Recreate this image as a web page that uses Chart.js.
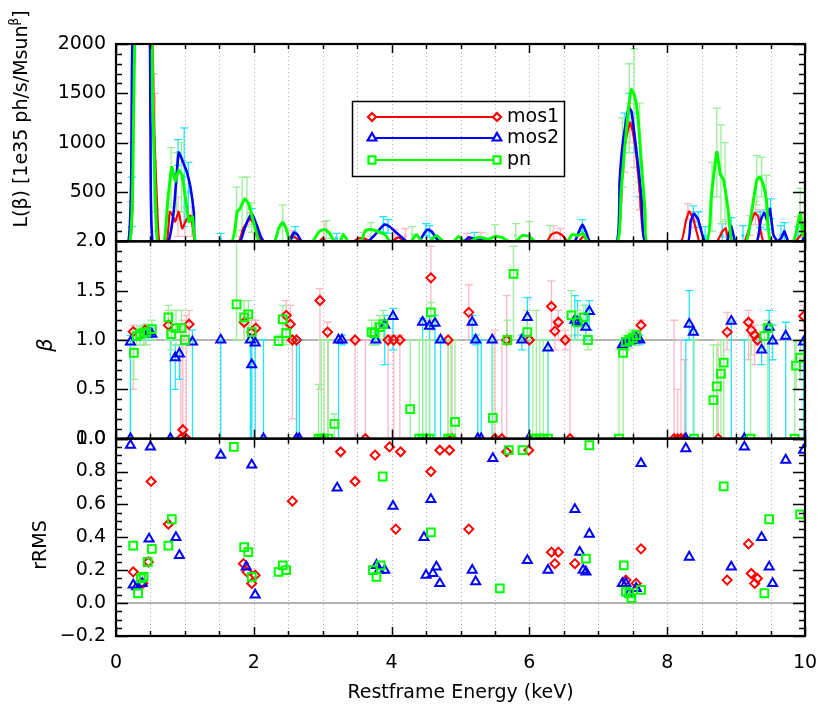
<!DOCTYPE html>
<html><head><meta charset="utf-8">
<script src="https://cdn.jsdelivr.net/npm/chart.js@4.4.0/dist/chart.umd.min.js"></script>
<style>html,body{margin:0;padding:0;background:#fff}#wrap{width:822px;height:710px;position:relative}</style>
</head><body><div id="wrap"><canvas id="c"></canvas></div>
<script>
// ---------- TOP PANEL: L(beta) curves ----------
const mos1LumE = [0,0.2,0.24,0.28,0.5,0.55,0.6,0.63, 0.74,0.78,0.83,0.86,0.91,0.96,1.03,1.08,1.12,1.15, 1.78,1.84,1.94,2.0,2.07,2.12, 2.5,2.55,2.62,2.68, 2.95,3.0,3.05, 3.45,3.52,3.62,3.68, 4.0,4.1,4.2, 5.05,5.12,5.2,5.3,5.38, 6.25,6.32,6.4,6.48,6.55, 6.72,6.78,6.85, 7.28,7.36,7.46,7.5,7.55,7.6,7.68, 8.2,8.27,8.32,8.38,8.43,8.47, 8.72,8.8,8.85,8.9, 9.12,9.2,9.27,9.32,9.4, 9.85,9.95,10];
const mos1Lum  = [0,0,400,2600,2600,1200,300,0, 0,300,250,200,300,130,230,260,120,0, 0,120,230,180,50,0, 0,60,30,0, 0,30,0, 0,30,25,0, 0,40,0, 0,25,15,30,0, 0,70,90,60,0, 0,50,0, 0,887,1203,1110,887,520,0, 0,200,303,220,90,0, 0,100,130,0, 0,160,287,253,0, 0,70,130];
const mos2LumE = [0,0.18,0.22,0.26,0.47,0.5,0.53, 0.76,0.84,0.91,0.98,1.03,1.08,1.13,1.16, 1.8,1.86,1.94,1.98,2.05,2.1,2.15, 2.52,2.58,2.63,2.7, 3.65,3.75,3.85,3.9,3.97,4.05,4.15,4.22, 4.4,4.48,4.53,4.58,4.65,4.7, 5.05,5.12,5.2,5.3,5.4, 6.65,6.72,6.77,6.82,6.88, 7.27,7.31,7.36,7.44,7.48,7.53,7.58,7.63,7.68, 8.3,8.34,8.39,8.45,8.5,8.55, 8.86,8.93,8.99, 9.3,9.36,9.41,9.45,9.49,9.54,9.6,9.66,9.7,9.76, 9.95,10];
const mos2Lum  = [0,0,600,2600,2600,1200,0, 0,320,900,790,700,550,290,0, 0,120,250,270,150,50,0, 0,90,70,0, 0,60,140,170,150,100,40,0, 0,90,120,100,30,0, 0,40,25,30,0, 0,100,170,100,0, 0,620,1020,1353,1320,1053,753,420,0, 0,200,280,220,90,0, 0,150,0, 0,220,290,220,330,70,0,40,100,0, 0,60];
const pnLumE = [0,0.2,0.24,0.3,0.5,0.53,0.56,0.6, 0.7,0.75,0.81,0.86,0.91,0.96,1.01,1.06,1.11,1.16, 1.68,1.76,1.8,1.87,1.93,1.98,2.03,2.08, 2.3,2.36,2.42,2.47,2.53, 2.85,2.95,3.03,3.1,3.17, 3.25,3.3,3.37, 3.55,3.62,3.7,3.8,3.9,3.98, 4.28,4.36,4.44, 4.55,4.65,4.75, 4.9,4.97,5.05, 5.15,5.22,5.3,5.4,5.5,5.6,5.7, 5.8,5.9,6.0,6.08, 6.55,6.62,6.7,6.78,6.85, 7.28,7.33,7.38,7.44,7.48,7.53,7.58,7.63,7.68,7.71, 8.57,8.64,8.72,8.77,8.82,8.89,8.94, 9.15,9.23,9.3,9.34,9.39,9.44,9.5, 9.83,9.93,9.97,10];
const pnLum  = [0,0,500,2600,2600,1500,700,0, 0,400,750,610,720,670,430,200,250,0, 0,300,330,433,370,240,100,0, 0,130,190,130,0, 0,100,120,80,0, 0,70,0, 0,110,120,100,70,0, 0,70,0, 0,60,0, 0,50,0, 0,30,40,20,50,40,0, 0,60,50,0, 0,70,60,80,0, 0,487,920,1353,1537,1470,1220,753,287,0, 0,453,903,683,617,287,0, 0,320,620,653,587,420,0, 0,287,60,180];

// top panel error bars: energy, value, half-error
const mos1ErrE = [0.22,0.57,0.9,1.0,1.1,1.94,2.55,3.02,3.6,4.05,4.2,5.1,5.3,6.35,6.45,7.38,7.46,7.52,7.6,8.3,8.4,8.85,9.2,9.28,9.35,9.9,9.98];
const mos1ErrV = [700,800,250,200,200,230,60,80,30,40,50,20,30,90,70,950,1200,1000,520,303,220,130,160,287,200,100,130];
const mos1ErrD = [300,700,200,150,150,60,50,120,60,80,80,60,60,70,60,250,200,250,200,80,80,90,100,120,120,150,150];
const mos2ErrE = [0.23,0.9,0.99,1.05,1.52,1.97,2.6,3.2,3.88,3.95,4.5,4.55,5.2,6.77,7.38,7.45,7.52,7.6,8.38,8.45,8.55,8.8,8.93,9.1,9.35,9.45,9.5,9.65,9.7,9.9];
const mos2ErrV = [400,900,650,500,20,270,90,30,170,150,120,100,30,160,1100,1350,1100,600,280,220,50,60,150,60,220,220,330,60,100,50];
const mos2ErrD = [250,130,500,300,60,60,60,50,80,70,60,60,60,60,200,150,200,150,80,80,100,120,90,100,80,100,100,100,90,100];
const pnErrE = [0.55,0.8,0.88,0.95,1.75,1.83,1.9,1.97,2.42,3.05,3.7,4.3,5.5,5.8,6.0,6.3,7.35,7.45,7.52,7.6,8.65,8.72,8.78,8.84,9.3,9.37,9.44,9.93];
const pnErrV = [1000,650,600,650,300,380,400,240,190,120,120,70,50,60,50,60,900,1350,1450,1000,450,900,680,600,620,650,420,287];
const pnErrD = [700,300,300,350,250,270,250,150,180,90,70,80,120,120,150,100,350,450,500,400,350,450,500,400,250,200,250,250];

// ---------- MIDDLE PANEL: beta ----------
const mos1BetaE  = [0.25,0.42,0.76,0.94,0.97,1.02,1.06,1.86,1.97,2.03,2.47,2.53,2.56,2.62,2.96,3.07,3.47,3.62,3.95,4.03,4.12,4.57,4.82,4.88,5.12,5.5,5.6,5.67,6.0,6.32,6.37,6.42,6.52,6.59,7.45,7.55,7.62,8.1,8.15,8.2,8.25,8.74,8.87,9.18,9.22,9.27,9.31,9.98];
const mos1Beta   = [1.085,1.1,1.15,0,0.09,0,1.16,1.18,1.08,1.12,1.25,1.16,1.0,1.0,1.4,1.08,1.0,0,1.0,1.0,1.0,1.63,1.0,0,1.28,0,0,1.0,1.0,1.34,1.09,1.18,1.0,0,1.0,1.03,1.15,0,0,0,0,0,1.08,1.18,1.1,1.05,1.0,1.24];
const mos1BetaLo = [0.5,0.95,1.0,0,0,0,1.0,1.0,0,0.98,1.1,1.0,0.2,0,0.5,0,0,0,0,0,0,1.2,0,0,1.0,0,0,0,0,1.1,0.9,1.0,0.9,0,0.95,0.95,1.0,0,0,0,0,0,0.9,0.8,0.85,0.75,0.95,1.1];
const mos1BetaHi = [1.15,1.15,1.3,1.1,1.2,1.25,1.3,1.3,1.2,1.2,1.4,1.35,1.0,1.0,1.52,1.18,1.0,1.0,1.05,1.05,1.05,1.95,1.0,1.0,1.56,1.1,1.0,1.45,1.0,1.6,1.2,1.3,1.1,1.05,1.05,1.1,1.2,1.2,0.5,1.0,0.8,1.0,1.28,1.3,1.2,1.15,1.05,1.35];
const mos2BetaE  = [0.21,0.21,0.47,0.52,0.79,0.86,0.92,1.11,1.52,1.95,1.97,2.02,2.14,2.62,2.66,3.23,3.28,3.77,3.9,4.02,4.45,4.55,4.63,4.71,5.17,5.22,5.25,5.3,5.46,5.89,5.97,5.99,6.27,6.66,6.7,6.82,6.87,7.35,7.4,7.45,7.5,7.55,7.6,8.27,8.32,8.38,8.93,9.12,9.37,9.48,9.53,9.72,9.98];
const mos2Beta   = [0.98,0,1.08,1.06,0,0.82,0.86,0.98,1.0,1.0,0.75,0.97,0,0,0,1.0,1.0,1.0,1.15,1.24,1.18,1.14,1.17,1.0,1.18,1.0,0,0,1.0,1.0,1.23,0,0.92,1.2,1.18,1.13,1.29,0.95,0.97,0.99,1.0,1.02,1.0,0,1.16,1.08,1.19,0,0.9,1.13,0.99,1.04,0.98];
const mos2BetaLo = [0,0,1.0,1.0,0,0.5,0.6,0,0,0,0,0,0,0,0,0,0.95,0.95,0.75,0.9,0,0,0,0,1.0,0.95,0,0,0,0.9,1.0,0,0,1.0,1.05,1.0,1.1,0.9,0.9,0.95,0.95,0.95,0.95,0,1.0,0,0,0,0.75,0,0.8,0,0];
const mos2BetaHi = [1.05,1.0,1.13,1.12,1.0,0.95,0.95,1.1,1.0,1.0,1.0,1.0,1.0,1.0,1.0,1.0,1.05,1.08,1.25,1.32,1.22,1.25,1.25,1.0,1.25,1.05,1.0,1.0,1.0,1.05,1.43,1.0,1.0,1.45,1.4,1.35,1.4,1.0,1.02,1.03,1.05,1.08,1.05,1.0,1.5,1.1,1.19,1.0,1.0,1.3,1.15,1.18,1.0];
const pnBetaE  = [0.26,0.3,0.35,0.4,0.44,0.52,0.76,0.8,0.87,0.95,1.0,1.75,1.86,1.92,1.97,2.36,2.42,2.47,2.94,2.98,3.02,3.08,3.17,3.71,3.75,3.83,3.88,4.27,4.4,4.45,4.5,4.55,4.57,4.82,4.86,4.92,5.47,5.68,5.77,5.97,6.05,6.1,6.15,6.2,6.27,6.61,6.7,6.79,6.85,7.3,7.36,7.4,7.45,7.5,7.55,8.39,8.67,8.72,8.78,8.82,9.21,9.41,9.46,9.85,9.87,9.93];
const pnBeta   = [0.87,1.04,1.06,1.07,1.08,1.11,1.23,1.06,1.12,1.12,1.0,1.36,1.23,1.26,1.08,0.99,1.21,1.07,0,0,0,0,0.15,1.08,1.07,1.13,1.16,0.3,0,0,0,0,1.28,0,0,0.17,0.21,1.0,1.67,1.08,0,0,0,0,0,1.25,1.18,1.23,1.0,0,0.87,0.98,1.0,1.02,1.05,0,0.39,0.53,0.66,0.77,0,1.04,1.12,0,0.74,0.82];
const pnBetaLo = [0.6,0.95,0.95,0.95,0.95,1.0,1.0,0.9,0.95,0.95,0.95,1.0,1.0,1.0,1.0,0.95,1.0,0.95,0,0,0,0,0,0.95,0.95,1.0,1.0,0,0,0,0,0,1.1,0,0,0,0,0.95,1.0,1.0,0,0,0,0,0,1.0,1.0,1.1,0.9,0,0,0.9,0.92,0.95,0.95,0,0,0,0,0,0,0.9,0,0,0.5,0.6];
const pnBetaHi = [1.0,1.12,1.14,1.15,1.16,1.2,1.35,1.3,1.3,1.3,1.05,2.0,1.4,1.4,1.15,1.05,1.35,1.15,0.55,1.0,1.0,1.0,0.25,1.2,1.2,1.25,1.3,1.0,1.0,1.0,1.0,1.0,1.38,1.0,1.0,1.0,1.0,1.2,1.95,1.3,1.0,1.3,1.0,1.0,1.0,1.5,1.3,1.35,1.05,0.9,1.0,1.05,1.08,1.1,1.1,1.0,0.95,0.95,1.0,1.0,1.0,1.15,1.2,1.0,1.0,1.0];

// ---------- BOTTOM PANEL: rRMS ----------
const mos1RmsE = [0.25,0.36,0.39,0.47,0.51,0.76,1.85,1.9,1.97,2.02,2.56,3.26,3.47,3.76,3.97,4.06,4.13,4.57,4.7,4.84,5.12,5.67,5.99,6.32,6.37,6.42,6.66,7.4,7.55,7.62,8.87,9.18,9.22,9.27,9.31];
const mos1Rms  = [0.19,0.12,0.12,0.25,0.74,0.48,0.24,0.19,0.12,0.17,0.62,0.92,0.74,0.9,0.95,0.45,0.92,0.8,0.93,0.93,0.45,0.92,0.93,0.31,0.24,0.31,0.24,0.14,0.12,0.33,0.14,0.36,0.18,0.12,0.15];
const mos2RmsE = [0.21,0.25,0.3,0.38,0.48,0.5,0.87,0.92,1.52,1.89,1.97,2.02,3.21,3.78,3.82,3.9,4.02,4.47,4.5,4.57,4.6,4.65,4.7,5.17,5.22,5.47,5.97,6.27,6.66,6.73,6.78,6.82,6.87,7.35,7.4,7.45,7.55,7.62,8.27,8.32,8.93,9.12,9.37,9.48,9.53,9.72,9.98];
const mos2Rms  = [0.96,0.11,0.1,0.12,0.39,0.95,0.4,0.29,0.9,0.22,0.84,0.05,0.7,0.23,0.2,0.2,0.59,0.4,0.17,0.63,0.18,0.22,0.12,0.2,0.13,0.88,0.26,0.2,0.57,0.31,0.2,0.19,0.42,0.12,0.12,0.06,0.09,0.85,0.94,0.28,0.22,0.95,0.4,0.22,0.12,0.87,0.93];
const pnRmsE = [0.25,0.32,0.36,0.4,0.46,0.52,0.76,0.81,1.71,1.86,1.92,1.97,2.36,2.42,2.47,3.73,3.78,3.84,3.87,4.57,5.57,5.7,5.9,6.82,6.87,7.37,7.4,7.45,7.48,7.62,8.82,9.41,9.48,9.93];
const pnRms  = [0.35,0.06,0.15,0.16,0.25,0.33,0.35,0.51,0.95,0.34,0.31,0.16,0.19,0.23,0.2,0.2,0.16,0.23,0.77,0.43,0.09,0.93,0.93,0.27,0.96,0.23,0.07,0.06,0.03,0.08,0.71,0.06,0.51,0.54];

const seriesNames = ['mos1','mos2','pn'];
const xTitle = 'Restframe Energy (keV)';

// ---------- styles ----------
const RED='#ff0000', BLUE='#0000ff', GREEN='#00ff00';
const PINK='#ffb8c6', CYAN='#22e4ff', LGREEN='#98f098';
const FONT='DejaVu Sans';

const pts=(xs,ys)=>xs.map((x,i)=>({x:x,y:ys[i]}));
const errSym=(xs,v,d,color)=>({x:xs, lo:v.map((a,i)=>Math.max(0,a-d[i])), hi:v.map((a,i)=>a+d[i]), mid:v, color:color});
const errAbs=(xs,v,lo,hi,color)=>({x:xs, lo:lo, hi:hi, mid:v, color:color});

const lineDs=(label,xs,ys,color,w,order,err)=>({label,data:pts(xs,ys),yAxisID:'yL',showLine:true,borderColor:color,borderWidth:w,pointRadius:0,tension:0.15,fill:false,order:order,err:err});
const ptDs=(label,xs,ys,axis,color,style,r,order,err)=>({label,data:pts(xs,ys),yAxisID:axis,showLine:false,borderColor:color,backgroundColor:'rgba(0,0,0,0)',pointStyle:style,pointRadius:r,pointBorderWidth:2,pointHoverRadius:r,order:order,err:err});

const datasets=[
  lineDs('mos1',mos1LumE,mos1Lum,RED,2.2,3,errSym(mos1ErrE,mos1ErrV,mos1ErrD,PINK)),
  lineDs('mos2',mos2LumE,mos2Lum,BLUE,2.6,2,errSym(mos2ErrE,mos2ErrV,mos2ErrD,CYAN)),
  lineDs('pn',pnLumE,pnLum,GREEN,3,1,errSym(pnErrE,pnErrV,pnErrD,LGREEN)),
  ptDs('mos1',mos1BetaE,mos1Beta,'yB',RED,'rectRot',4.5,3,errAbs(mos1BetaE,mos1Beta,mos1BetaLo,mos1BetaHi,PINK)),
  ptDs('mos2',mos2BetaE,mos2Beta,'yB',BLUE,'triangle',5.2,2,errAbs(mos2BetaE,mos2Beta,mos2BetaLo,mos2BetaHi,CYAN)),
  ptDs('pn',pnBetaE,pnBeta,'yB',GREEN,'rect',5.5,1,errAbs(pnBetaE,pnBeta,pnBetaLo,pnBetaHi,LGREEN)),
  ptDs('mos1',mos1RmsE,mos1Rms,'yR',RED,'rectRot',4.5,3,null),
  ptDs('mos2',mos2RmsE,mos2Rms,'yR',BLUE,'triangle',5.2,2,null),
  ptDs('pn',pnRmsE,pnRms,'yR',GREEN,'rect',5.5,1,null)
];

function drawTicksY(ctx,s,ca,major,minor){
  const n=Math.round((s.max-s.min)/minor);
  for(let i=0;i<=n;i++){
    const v=s.min+i*minor;
    const isMaj=Math.abs(v/major-Math.round(v/major))<1e-6;
    const L=isMaj?12:6;
    const py=Math.round(s.getPixelForValue(v))+0.5;
    ctx.beginPath();ctx.moveTo(ca.left,py);ctx.lineTo(ca.left+L,py);ctx.stroke();
    ctx.beginPath();ctx.moveTo(ca.right,py);ctx.lineTo(ca.right-L,py);ctx.stroke();
  }
}

const customPlugin={
  id:'custom',
  beforeDatasetsDraw(chart){
    const {ctx,chartArea:ca,scales}=chart;
    const xs=scales.x;
    ctx.save();
    ctx.strokeStyle='#b0b0b0';ctx.lineWidth=1;ctx.setLineDash([1,3]);
    for(let i=1;i<20;i++){const px=Math.round(xs.getPixelForValue(i*0.5))+0.5;ctx.beginPath();ctx.moveTo(px,ca.top);ctx.lineTo(px,ca.bottom);ctx.stroke();}
    ctx.setLineDash([]);
    ctx.strokeStyle='#b4b4b4';ctx.lineWidth=2;
    [[scales.yB,1.0],[scales.yR,0.0]].forEach(([s,v])=>{const py=s.getPixelForValue(v);ctx.beginPath();ctx.moveTo(ca.left,py);ctx.lineTo(ca.right,py);ctx.stroke();});
    chart.data.datasets.forEach(ds=>{
      if(!ds.err) return;
      const ys=scales[ds.yAxisID];const e=ds.err;
      ctx.save();ctx.beginPath();ctx.rect(ca.left,ys.top,ca.right-ca.left,ys.bottom-ys.top);ctx.clip();
      ctx.strokeStyle=e.color;ctx.fillStyle=e.color;ctx.lineWidth=1.3;
      e.x.forEach((xv,i)=>{
        const px=xs.getPixelForValue(xv);
        const y1=ys.getPixelForValue(e.lo[i]), y2=ys.getPixelForValue(e.hi[i]);
        ctx.beginPath();ctx.moveTo(px,y1);ctx.lineTo(px,y2);
        ctx.moveTo(px-4,y2);ctx.lineTo(px+4,y2);
        ctx.moveTo(px-4,y1);ctx.lineTo(px+4,y1);ctx.stroke();
        if(ds.yAxisID==='yL'){const ym=ys.getPixelForValue(e.mid[i]);ctx.fillRect(px-1.5,ym-1.5,3,3);}
      });
      ctx.restore();
    });
    ctx.restore();
  },
  afterDraw(chart){
    const {ctx,chartArea:ca,scales}=chart;
    const xs=scales.x;
    ctx.save();
    ctx.strokeStyle='#000';ctx.lineWidth=1.5;
    drawTicksY(ctx,scales.yL,ca,500,100);
    drawTicksY(ctx,scales.yB,ca,0.5,0.1);
    drawTicksY(ctx,scales.yR,ca,0.2,0.05);
    [scales.yL,scales.yB,scales.yR].forEach(s=>{
      for(let i=0;i<=20;i++){
        const px=Math.round(xs.getPixelForValue(i*0.5))+0.5;const L=(i%4===0)?9:5;
        ctx.beginPath();ctx.moveTo(px,s.top);ctx.lineTo(px,s.top+L);ctx.stroke();
        ctx.beginPath();ctx.moveTo(px,s.bottom);ctx.lineTo(px,s.bottom-L);ctx.stroke();
      }
    });
    ctx.lineWidth=2.2;
    [scales.yL,scales.yB,scales.yR].forEach(s=>{ctx.strokeRect(ca.left,s.top,ca.right-ca.left,s.bottom-s.top);});
    ctx.fillStyle='#000';ctx.textBaseline='middle';
    ctx.save();ctx.translate(22,119);ctx.rotate(-Math.PI/2);
    const parts=[['L(β) [1e35 ph/s/Msun',19,0],['β',12,-7],[']',19,0]];
    let tw=0;parts.forEach(p=>{ctx.font=p[1]+'px "'+FONT+'"';tw+=ctx.measureText(p[0]).width;});
    let cx=-tw/2;ctx.textAlign='left';
    parts.forEach(p=>{ctx.font=p[1]+'px "'+FONT+'"';ctx.fillText(p[0],cx,p[2]);cx+=ctx.measureText(p[0]).width;});
    ctx.restore();
    ctx.save();ctx.translate(47,345);ctx.rotate(-Math.PI/2);ctx.textAlign='center';ctx.font='italic 21px "'+FONT+'"';ctx.fillText('β',0,0);ctx.restore();
    ctx.save();ctx.translate(41,545);ctx.rotate(-Math.PI/2);ctx.textAlign='center';ctx.font='19px "'+FONT+'"';ctx.fillText('rRMS',0,0);ctx.restore();
    ctx.lineWidth=1.5;ctx.strokeStyle='#000';ctx.strokeRect(352.5,101.5,212,75);
    const leg=[[RED,'rectRot',4,117],[BLUE,'triangle',5,138],[GREEN,'rect',5,160]];
    leg.forEach((l,i)=>{
      ctx.strokeStyle=l[0];ctx.lineWidth=2.2;ctx.beginPath();ctx.moveTo(372,l[3]);ctx.lineTo(497,l[3]);ctx.stroke();
      ctx.fillStyle='#fff';
      [372,497].forEach(px=>{Chart.helpers.drawPoint(ctx,{pointStyle:l[1],radius:l[2],borderWidth:2,rotation:0},px,l[3]);});
      ctx.fillStyle='#000';ctx.font='19px "'+FONT+'"';ctx.textAlign='left';ctx.textBaseline='middle';
      ctx.fillText(seriesNames[i],507,l[3]);
    });
    ctx.restore();
  }
};

const tickFont={family:FONT,size:19};
const yCommon=(min,max,step,fmt)=>({type:'linear',position:'left',stack:'panels',stackWeight:1,min:min,max:max,
  grid:{display:false,drawTicks:false},border:{display:false},
  ticks:{stepSize:step,font:tickFont,color:'#000',padding:10,callback:fmt,autoSkip:false},
  afterFit(s){s.width=116;}});

new Chart(document.getElementById('c'),{
  type:'scatter',
  data:{datasets:datasets},
  options:{
    responsive:true,maintainAspectRatio:false,animation:false,
    layout:{padding:{top:44,right:17,left:0,bottom:0}},
    plugins:{legend:{display:false},tooltip:{enabled:false}},
    scales:{
      x:{type:'linear',position:'bottom',min:0,max:10,grid:{display:false,drawTicks:false},border:{display:false},
        ticks:{stepSize:2,font:tickFont,color:'#000',padding:16,maxRotation:0,autoSkip:false},
        title:{display:true,text:xTitle,font:{family:FONT,size:19},color:'#000',padding:{top:2,bottom:6}},
        afterFit(s){s.height=74;s.paddingLeft=0;s.paddingRight=0;}},
      yR:yCommon(-0.2,1.0,0.2,v=>(Math.abs(v)<1e-9?0:v).toFixed(1).replace('-','−')),
      yB:yCommon(0,2.0,0.5,v=>v.toFixed(1)),
      yL:yCommon(0,2000,500,v=>String(Math.round(v)))
    }
  },
  plugins:[customPlugin]
});
</script></body></html>
